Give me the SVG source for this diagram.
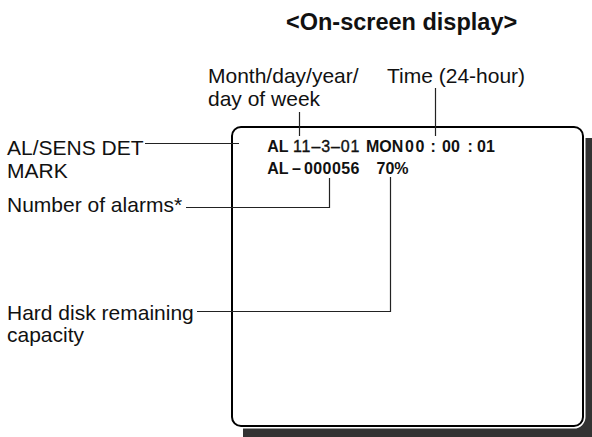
<svg xmlns="http://www.w3.org/2000/svg" width="592" height="437" viewBox="0 0 592 437">
<style>
.lbl{font-family:"Liberation Sans",Arial,Helvetica,sans-serif;font-size:21px;fill:#111}
.ttl{font-family:"Liberation Sans",Arial,Helvetica,sans-serif;font-size:23.5px;font-weight:bold;fill:#111}
.osd{font-family:"Liberation Sans",Arial,Helvetica,sans-serif;font-size:16px;font-weight:bold;fill:#111}
.osdr{font-family:"Liberation Sans",Arial,Helvetica,sans-serif;font-size:16px;fill:#111;stroke:#111;stroke-width:0.35}
.con{fill:none;stroke:#222;stroke-width:1.2}
</style>
<rect width="592" height="437" fill="#fff"/>
<g id="title"><text class="ttl" x="286" y="29.5">&lt;On-screen display&gt;</text></g>
<g id="screen">
<rect x="243" y="138" width="360" height="310" fill="#333"/>
<rect x="232" y="127" width="351" height="299" rx="9" fill="#fff" stroke="#fff" stroke-width="5"/>
<rect x="232" y="127" width="351" height="299" rx="9" fill="#fff" stroke="#000" stroke-width="2"/>
<text class="osd" x="267.3" y="152">AL</text>
<text class="osdr" x="293" y="152" letter-spacing="0.9">11–3–01</text>
<text class="osd" x="366" y="152">MON</text>
<text class="osd" x="405" y="152" letter-spacing="1.5">00</text>
<text class="osd" x="430.5" y="152">:</text>
<text class="osd" x="442" y="152">00</text>
<text class="osd" x="467.5" y="152">:</text>
<text class="osd" x="477" y="152">01</text>
<text class="osd" x="267.3" y="173.5">AL</text>
<text class="osd" x="292" y="173.5">–</text>
<text class="osd" x="304" y="173.5" letter-spacing="0.4">000056</text>
<text class="osd" x="376.5" y="173.5">70%</text>
</g>
<g id="label-date"><text class="lbl" x="208" y="83">Month/day/year/</text><text class="lbl" x="208" y="106">day of week</text></g>
<g id="label-time"><text class="lbl" x="387" y="83">Time (24-hour)</text></g>
<g id="label-al"><text class="lbl" x="7" y="155">AL/SENS DET</text><text class="lbl" x="7" y="178">MARK</text></g>
<g id="label-alarms"><text class="lbl" x="7" y="211.5">Number of alarms*</text></g>
<g id="label-hdd"><text class="lbl" x="7" y="319.5">Hard disk remaining</text><text class="lbl" x="7" y="342">capacity</text></g>
<g id="connectors">
<line class="con" x1="299.5" y1="112" x2="299.5" y2="136"/>
<line class="con" x1="435.5" y1="88" x2="435.5" y2="136"/>
<line class="con" x1="145" y1="143.5" x2="239" y2="143.5"/>
<polyline class="con" points="186,207.5 329.5,207.5 329.5,178"/>
<polyline class="con" points="197,311.5 390.5,311.5 390.5,177"/>
</g>
</svg>
